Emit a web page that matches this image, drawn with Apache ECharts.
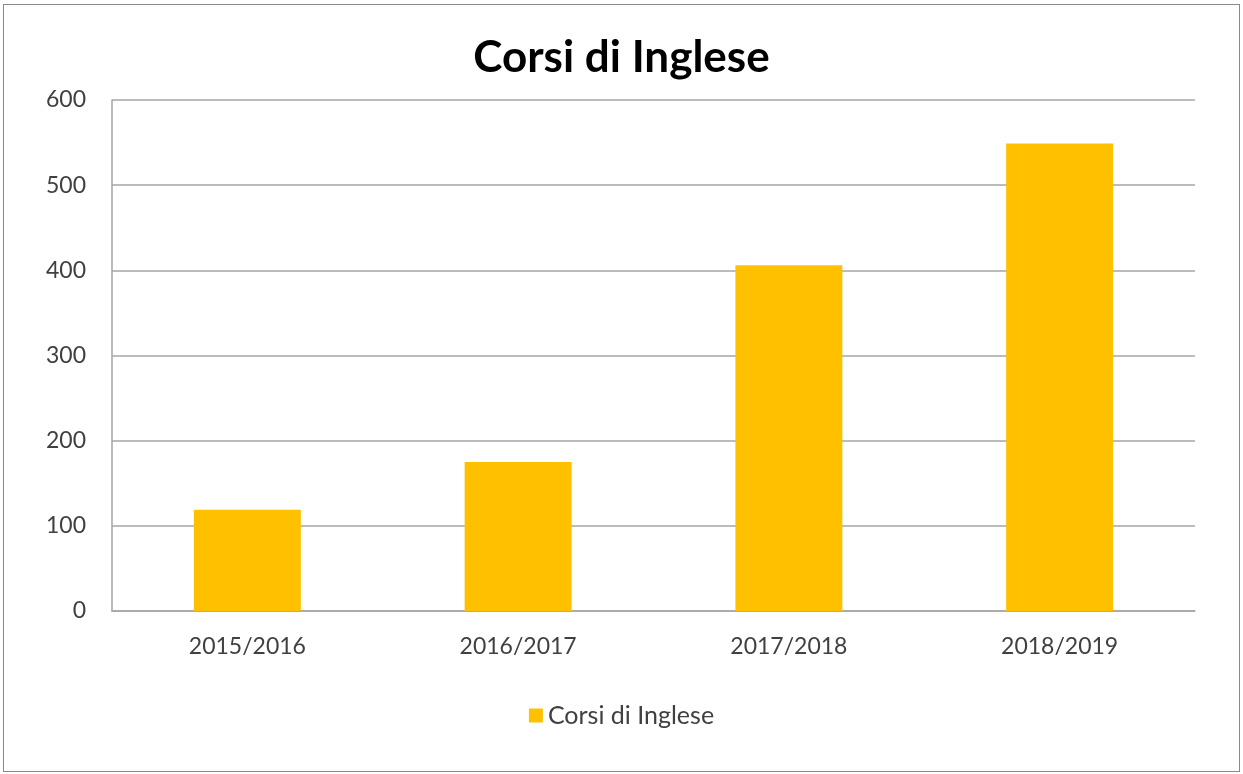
<!DOCTYPE html>
<html>
<head>
<meta charset="utf-8">
<script src="https://cdn.jsdelivr.net/npm/echarts@6/dist/echarts.min.js"></script>
<style>
  html, body { margin: 0; padding: 0; background: #fff; }
  #frame {
    position: absolute; left: 3px; top: 4px;
    width: 1235px; height: 766px;
    border: 1px solid #8a8a8a;
  }
  #chart { position: absolute; left: 0; top: 0; width: 1243px; height: 774px; }
</style>
</head>
<body>
<div id="frame"></div>
<div id="chart"></div>
<script>
var categories = ['2015/2016', '2016/2017', '2017/2018', '2018/2019'];
var corsiValues = [119, 175, 406, 549];
var seriesName = 'Corsi di Inglese';

var myChart = echarts.init(document.getElementById('chart'));
var option = {
    animation: false,
    color: ['#FFC000'],
    title: {
        text: 'Corsi di Inglese',
        left: 'center',
        top: 31,
        textStyle: {
            fontFamily: 'Lato',
            fontSize: 44,
            fontWeight: 'bold',
            color: '#000'
        }
    },
    grid: {
        left: 112,
        right: 48,
        top: 100,
        bottom: 163
    },
    legend: {
        bottom: 41,
        left: 'center',
        icon: 'rect',
        itemWidth: 14,
        itemHeight: 14,
        itemGap: 6,
        textStyle: {
            fontFamily: 'Lato',
            fontSize: 25,
            color: '#404040'
        }
    },
    xAxis: {
        type: 'category',
        data: categories,
        axisLine: {
            show: true,
            lineStyle: { color: '#a6a6a6', width: 1.5 }
        },
        axisTick: { show: false },
        axisLabel: {
            fontFamily: 'Lato',
            fontSize: 23,
            color: '#404040',
            margin: 24
        }
    },
    yAxis: {
        type: 'value',
        min: 0,
        max: 600,
        interval: 100,
        axisLine: {
            show: true,
            lineStyle: { color: '#a6a6a6', width: 1.5 }
        },
        axisTick: { show: false },
        splitLine: {
            show: true,
            lineStyle: { color: '#a6a6a6', width: 1.5 }
        },
        axisLabel: {
            fontFamily: 'Lato',
            fontSize: 23,
            color: '#404040',
            margin: 26
        }
    },
    series: [{
        name: seriesName,
        type: 'bar',
        barWidth: '39.5%',
        data: corsiValues
    }]
};
myChart.setOption(option);
</script>
</body>
</html>
